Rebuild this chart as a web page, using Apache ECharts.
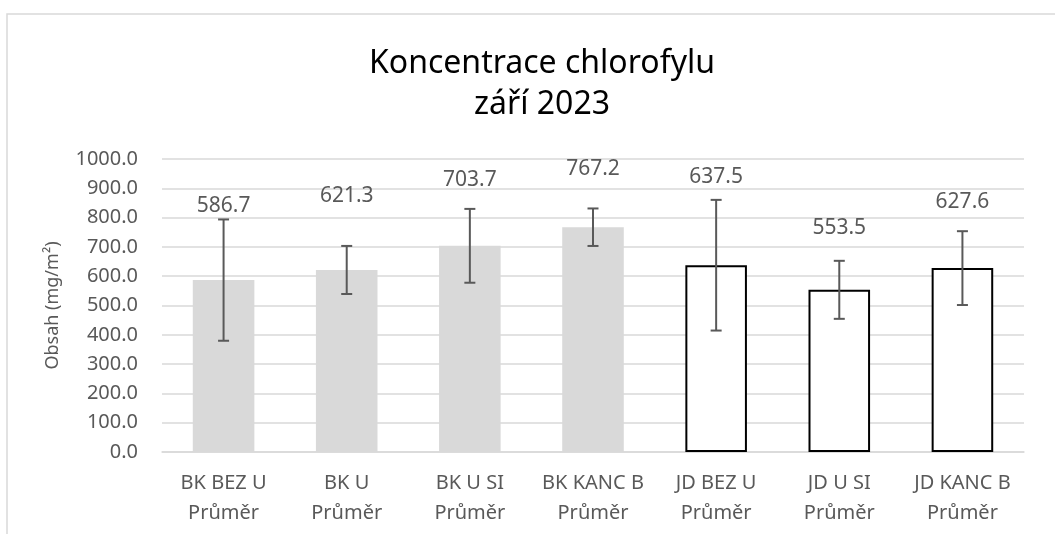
<!DOCTYPE html>
<html>
<head>
<meta charset="utf-8">
<script src="https://cdn.jsdelivr.net/npm/echarts@6/dist/echarts.min.js"></script>
<style>
  html, body { margin: 0; padding: 0; background: #fff; }
  #chart { width: 1055px; height: 534px; }
</style>
</head>
<body>
<div id="chart"></div>
<script>
// data
const categories = [
  'BK BEZ U\nPrůměr',
  'BK U\nPrůměr',
  'BK U SI\nPrůměr',
  'BK KANC B\nPrůměr',
  'JD BEZ U\nPrůměr',
  'JD U SI\nPrůměr',
  'JD KANC B\nPrůměr'
]
const means = [586.7, 621.3, 703.7, 767.2, 637.5, 553.5, 627.6]
const errors = [207, 82, 126, 64, 223, 99, 126]

// label placement (px above bar top), as in the original
const labelShift = [-74, -74, -66, -58, -88, -62, -66]

const textFont = '"Noto Sans", sans-serif'
const mychart = echarts.init(document.getElementById('chart'))

const barData = means.map(function (v, i) {
  const filled = categories[i].indexOf('BK') === 0
  return {
    value: v,
    itemStyle: filled
      ? { color: '#d9d9d9' }
      : { color: '#ffffff', borderColor: '#000000', borderWidth: 2 },
    label: { offset: [0, labelShift[i]] }
  }
})

const errData = means.map(function (v, i) {
  return [i, v - errors[i], v + errors[i]]
})

const option = {
  animation: false,
  backgroundColor: '#ffffff',
  textStyle: { fontFamily: textFont },
  title: {
    text: 'Koncentrace chlorofylu\nzáří 2023',
    left: 537,
    top: 38,
    textAlign: 'center',
    textStyle: {
      fontFamily: textFont,
      fontSize: 32,
      fontWeight: 'normal',
      color: '#000000',
      lineHeight: 41
    }
  },
  graphic: [{
    type: 'rect',
    shape: { x: 7, y: 14, width: 1100, height: 600 },
    style: { fill: 'none', stroke: '#d9d9d9', lineWidth: 1.5 },
    silent: true
  }],
  grid: {
    left: 162,
    right: 31,
    top: 159,
    bottom: 82
  },
  xAxis: {
    type: 'category',
    data: categories,
    axisTick: { show: false },
    axisLine: { lineStyle: { color: '#d9d9d9', width: 1.5 } },
    axisLabel: {
      color: '#595959',
      fontSize: 20,
      lineHeight: 30,
      margin: 16,
      interval: 0
    }
  },
  yAxis: {
    type: 'value',
    min: 0,
    max: 1000,
    interval: 100,
    name: 'Obsah (mg/m²)',
    nameLocation: 'middle',
    nameGap: 100,
    nameTextStyle: { color: '#595959', fontSize: 18 },
    axisLine: { show: false },
    axisTick: { show: false },
    axisLabel: {
      color: '#595959',
      fontSize: 20,
      margin: 24,
      formatter: function (v) { return v.toFixed(1) }
    },
    splitLine: { lineStyle: { color: '#d9d9d9', width: 1.5 } }
  },
  series: [{
    name: 'Průměr',
    type: 'bar',
    barWidth: '50%',
    data: barData,
    label: {
      show: true,
      position: 'top',
      distance: 0,
      verticalAlign: 'middle',
      color: '#595959',
      fontSize: 21,
      formatter: function (p) { return p.value.toFixed(1) }
    }
  },
  {
    name: 'chyba',
    type: 'custom',
    z: 5,
    encode: { x: 0, y: [1, 2] },
    data: errData,
    renderItem: function (params, api) {
      const lo = api.coord([api.value(0), api.value(1)])
      const hi = api.coord([api.value(0), api.value(2)])
      const half = 5.5
      const style = { stroke: '#595959', lineWidth: 2 }
      return {
        type: 'group',
        children: [
          { type: 'line', shape: { x1: hi[0], y1: hi[1], x2: lo[0], y2: lo[1] }, style: style },
          { type: 'line', shape: { x1: hi[0] - half, y1: hi[1], x2: hi[0] + half, y2: hi[1] }, style: style },
          { type: 'line', shape: { x1: lo[0] - half, y1: lo[1], x2: lo[0] + half, y2: lo[1] }, style: style }
        ]
      }
    }
  }]
}

mychart.setOption(option)
window.addEventListener('resize', function () {
  mychart.resize()
})
</script>
</body>
</html>
